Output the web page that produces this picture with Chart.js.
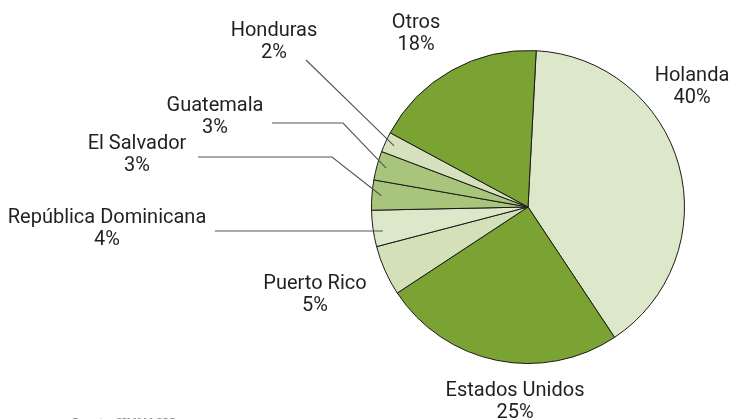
<!DOCTYPE html>
<html>
<head>
<meta charset="utf-8">
<script src="https://cdn.jsdelivr.net/npm/chart.js@4.4.1/dist/chart.umd.min.js"></script>
<style>
  html, body { margin: 0; padding: 0; background: #ffffff; }
  #wrap { width: 731px; height: 419px; position: relative; }
  canvas { display: block; }
</style>
</head>
<body>
<div id="wrap"><canvas id="c" width="731" height="419"></canvas></div>
<script>
// ---- data ----
const categories = ["Holanda", "Estados Unidos", "Puerto Rico", "República Dominicana", "El Salvador", "Guatemala", "Honduras", "Otros"];
const shares = [39.9, 25.1, 5.2, 3.75, 3.1, 3.0, 2.1, 18.0];
const percentLabels = ["40%", "25%", "5%", "4%", "3%", "3%", "2%", "18%"];
const sliceColors = ["#dde7c9", "#7aa333", "#d3e0b8", "#dde7c9", "#a9c57b", "#a9c57b", "#d6e2bd", "#7aa333"];

// ---- label layout (text centre x, first-line baseline y, optional leader start/knee) ----
const labelLayout = [
  { x: 692, y: 81 },
  { x: 515, y: 396 },
  { x: 315, y: 289 },
  { x: 107, y: 223, line: [[215, 231]], horizontal: true },
  { x: 137, y: 149, line: [[198, 157], [332, 157]] },
  { x: 215, y: 111, line: [[272, 123], [343, 123]] },
  { x: 274, y: 36, line: [[306, 60]] },
  { x: 416, y: 27.5 }
];
const LINE_GAP = 22;
const FONT = '20px Roboto, "Noto Sans", sans-serif';

const labelPlugin = {
  id: 'sliceLabels',
  afterDatasetsDraw(chart) {
    const ctx = chart.ctx;
    const meta = chart.getDatasetMeta(0);
    ctx.save();
    meta.data.forEach((arc, i) => {
      const L = labelLayout[i];
      const p = arc.getProps(['x', 'y', 'startAngle', 'endAngle', 'outerRadius'], true);
      if (L.line) {
        const r = p.outerRadius * 0.94;
        let ex, ey;
        if (L.horizontal) {
          ey = L.line[L.line.length - 1][1];
          ex = p.x - Math.sqrt(r * r - (ey - p.y) * (ey - p.y));
        } else {
          const mid = (p.startAngle + p.endAngle) / 2;
          ex = p.x + Math.cos(mid) * r;
          ey = p.y + Math.sin(mid) * r;
        }
        ctx.beginPath();
        ctx.strokeStyle = '#555555';
        ctx.lineWidth = 1.1;
        ctx.moveTo(L.line[0][0], L.line[0][1]);
        for (let k = 1; k < L.line.length; k++) ctx.lineTo(L.line[k][0], L.line[k][1]);
        ctx.lineTo(ex, ey);
        ctx.stroke();
      }
      ctx.fillStyle = '#231f20';
      ctx.font = FONT;
      ctx.textAlign = 'center';
      ctx.textBaseline = 'alphabetic';
      ctx.fillText(categories[i], L.x, L.y);
      ctx.fillText(percentLabels[i], L.x, L.y + LINE_GAP);
    });
    // cut-off source note at the bottom
    ctx.fillStyle = '#9a9a9a';
    ctx.font = 'bold 11px "Noto Sans", sans-serif';
    ctx.textAlign = 'left';
    ctx.textBaseline = 'alphabetic';
    ctx.fillText('Fuente: SIMMAGPP', 72, 426);
    ctx.restore();
  }
};

new Chart(document.getElementById('c'), {
  type: 'pie',
  data: {
    labels: categories,
    datasets: [{
      data: shares,
      backgroundColor: sliceColors,
      borderColor: '#1a1a1a',
      borderWidth: 1
    }]
  },
  options: {
    responsive: false,
    animation: false,
    rotation: 3,
    layout: { padding: { left: 371, right: 46, top: 50, bottom: 55 } },
    plugins: {
      legend: { display: false },
      tooltip: { enabled: false }
    }
  },
  plugins: [labelPlugin]
});
</script>
</body>
</html>
